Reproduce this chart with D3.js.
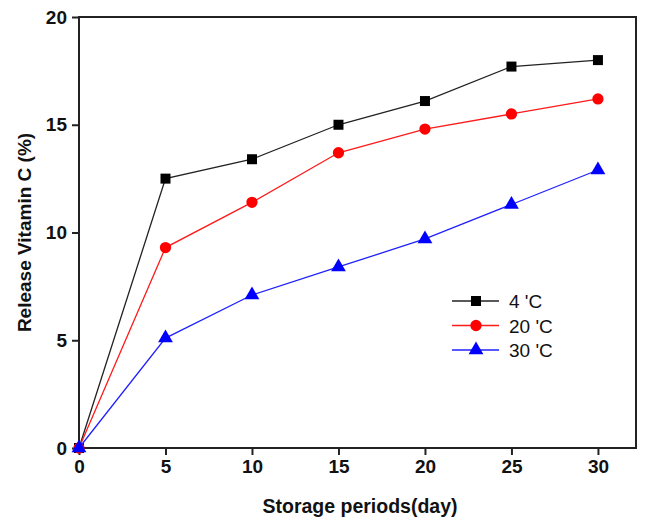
<!DOCTYPE html>
<html lang="en">
<head>
  <meta charset="utf-8">
  <title>Release Vitamin C</title>
  <script src="https://d3js.org/d3.v7.min.js"></script>
  <style>
    body { margin: 0; background: #fff; }
    text { font-family: "Liberation Sans", Arial, sans-serif; }
  </style>
</head>
<body>
<svg id="canvas"></svg>
<script>

// ---- data ----
var days = [0, 5, 10, 15, 20, 25, 30];
var temp4 = [0, 12.5, 13.4, 15.0, 16.1, 17.7, 18.0];
var temp20 = [0, 9.3, 11.4, 13.7, 14.8, 15.5, 16.2];
var temp30 = [0, 5.1, 7.1, 8.4, 9.7, 11.3, 12.9];
var seriesNames = ["4 'C", "20 'C", "30 'C"];
var xTicks = [0, 5, 10, 15, 20, 25, 30];
var yTicks = [0, 5, 10, 15, 20];

var width = 646, height = 520;
var plotLeft = 79, plotRight = 636, plotTop = 17, plotBottom = 448;

var svg = d3.select('#canvas').attr('width', width).attr('height', height);

var x = d3.scaleLinear().domain([0, 32.2]).range([plotLeft, plotRight]);
var y = d3.scaleLinear().domain([0, 20]).range([plotBottom, plotTop]);

// frame
svg.append('rect')
  .attr('x', plotLeft).attr('y', plotTop)
  .attr('width', plotRight - plotLeft).attr('height', plotBottom - plotTop)
  .attr('fill', 'none').attr('stroke', '#222').attr('stroke-width', 2);

// axes
var xAxis = svg.append('g').attr('transform', 'translate(0,' + plotBottom + ')')
  .call(d3.axisBottom(x).tickValues(xTicks).tickSize(7).tickPadding(5));
var yAxis = svg.append('g').attr('transform', 'translate(' + plotLeft + ',0)')
  .call(d3.axisLeft(y).tickValues(yTicks).tickSize(7).tickPadding(5));

[xAxis, yAxis].forEach(function(g){
  g.select('.domain').remove();
  g.selectAll('line').attr('stroke', '#222').attr('stroke-width', 2);
  g.selectAll('text').attr('fill', '#111').style('font-size', '19px').style('font-weight', 'bold');
});

// axis titles
svg.append('text')
  .attr('x', 360).attr('y', 513)
  .attr('text-anchor', 'middle')
  .style('font-size', '19.5px').style('font-weight', 'bold').attr('fill', '#111')
  .text('Storage periods(day)');

svg.append('text')
  .attr('transform', 'translate(31,' + ((plotTop + plotBottom) / 2) + ') rotate(-90)')
  .attr('text-anchor', 'middle')
  .style('font-size', '19px').style('font-weight', 'bold').attr('fill', '#111')
  .text('Release Vitamin C (%)');

// series
var series = [
  { name: seriesNames[0], values: temp4, color: '#222', fill: '#000', shape: d3.symbolSquare, size: 100 },
  { name: seriesNames[1], values: temp20, color: '#ff1a1a', fill: '#ff0000', shape: d3.symbolCircle, size: 100 },
  { name: seriesNames[2], values: temp30, color: '#2020ff', fill: '#0000ff', shape: d3.symbolTriangle, size: 95 }
];

var line = d3.line().x(function(d, i){ return x(days[i]); }).y(function(d){ return y(d); });

series.forEach(function(s){
  svg.append('path').datum(s.values)
    .attr('d', line).attr('fill', 'none')
    .attr('stroke', s.color).attr('stroke-width', 1.3);

  svg.selectAll(null).data(s.values).enter().append('path')
    .attr('d', d3.symbol().type(s.shape).size(s.size))
    .attr('transform', function(d, i){ return 'translate(' + x(days[i]) + ',' + y(d) + ')'; })
    .attr('fill', s.fill);
});

// legend
var legend = svg.append('g').attr('transform', 'translate(452,301)');
series.forEach(function(s, i){
  var g = legend.append('g').attr('transform', 'translate(0,' + (i * 24.5) + ')');
  g.append('line').attr('x1', 0).attr('x2', 47).attr('y1', 0).attr('y2', 0)
    .attr('stroke', s.color).attr('stroke-width', 1.3);
  g.append('path').attr('d', d3.symbol().type(s.shape).size(s.size))
    .attr('transform', 'translate(24,0)').attr('fill', s.fill);
  g.append('text').attr('x', 57).attr('y', 7)
    .style('font-size', '19px').attr('fill', '#111').text(s.name);
});

</script>
</body>
</html>
